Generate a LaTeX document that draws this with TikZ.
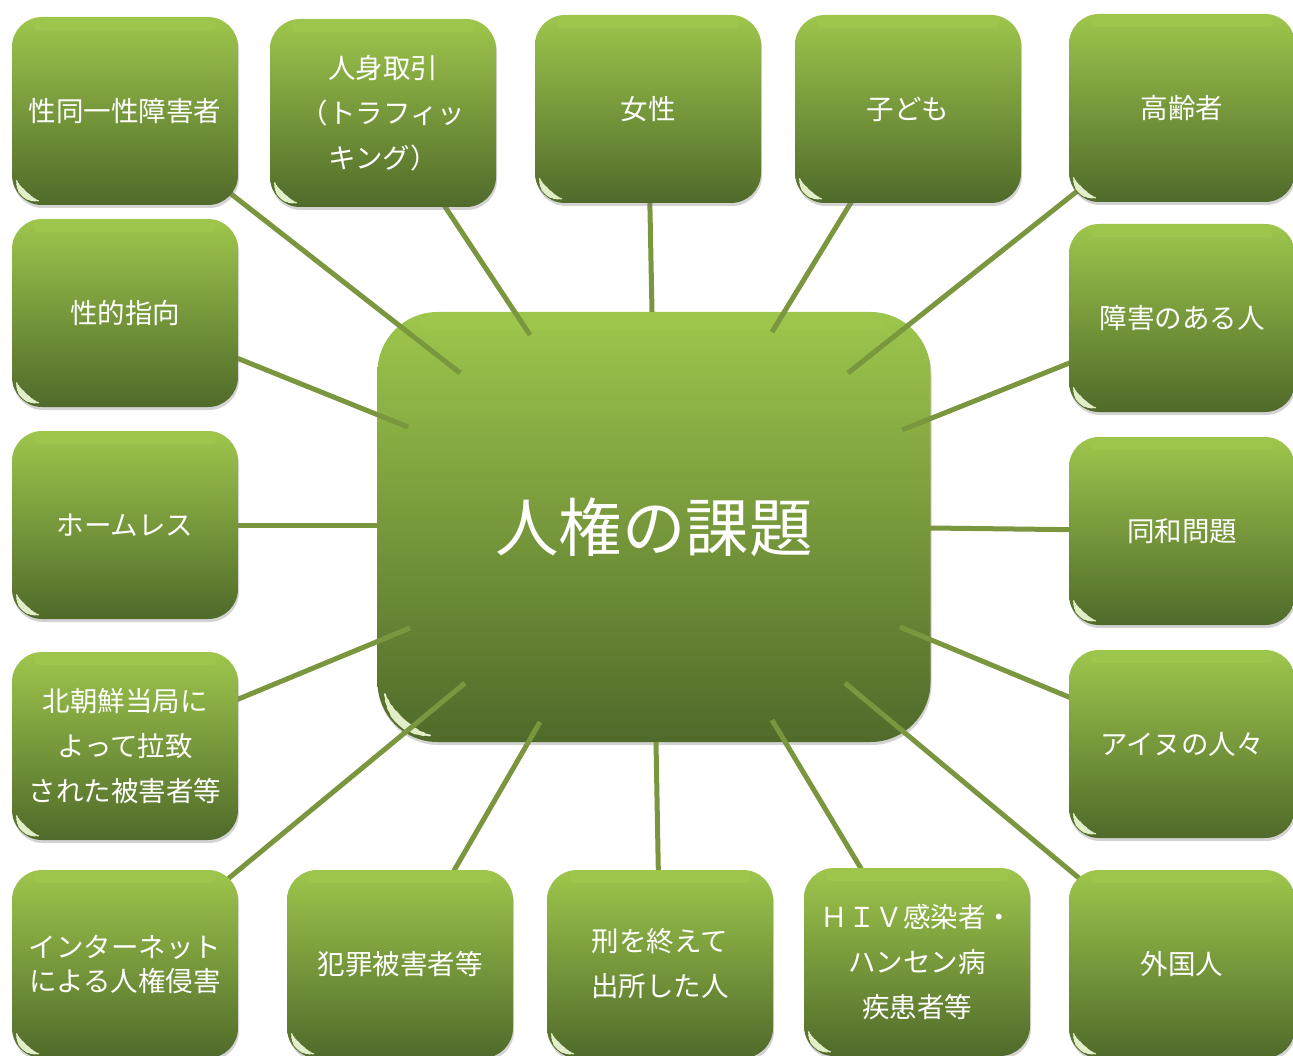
\documentclass[tikz,border=0pt]{standalone}
\usepackage{fontspec}
\setmainfont{Noto Sans CJK JP}
\usetikzlibrary{shadows}
\pgfdeclarelayer{bg}
\pgfdeclarelayer{mid}
\pgfsetlayers{bg,mid,main}
\definecolor{gtop}{RGB}{158,198,76}
\definecolor{gbot}{RGB}{80,106,42}
\definecolor{lnc}{RGB}{122,150,62}
\definecolor{glint}{RGB}{226,238,200}
\tikzset{
  glossy/.style={draw=none, top color=gtop, bottom color=gbot, text=white, align=center,
    drop shadow={opacity=0.35, shadow xshift=1pt, shadow yshift=-3pt}},
  smallhl/.style={path picture={
    \shade[top color=gtop, middle color=white!55!gtop, bottom color=gtop, rounded corners=4pt]
      ([xshift=22pt,yshift=-3pt]path picture bounding box.north west) rectangle
      ([xshift=-22pt,yshift=-13pt]path picture bounding box.north east);
    \foreach \a/\b/\w in {193/262/1.5, 200/255/3, 208/247/4.5, 216/238/6}{
      \draw[glint, line width=\w pt, line cap=round]
        ([shift={(30pt,30pt)}]path picture bounding box.south west)
        ++(\a:26pt) arc[start angle=\a, end angle=\b, radius=26pt];
    }
  }},
  bighl/.style={path picture={
    \shade[top color=gtop, middle color=white!55!gtop, bottom color=gtop, rounded corners=5pt]
      ([xshift=45pt,yshift=-4pt]path picture bounding box.north west) rectangle
      ([xshift=-45pt,yshift=-17pt]path picture bounding box.north east);
    \foreach \a/\b/\w in {193/262/2, 200/255/4, 208/247/6, 216/238/8}{
      \draw[glint, line width=\w pt, line cap=round]
        ([shift={(60pt,60pt)}]path picture bounding box.south west)
        ++(\a:54pt) arc[start angle=\a, end angle=\b, radius=54pt];
    }
  }},
  smallbox/.style={glossy, smallhl, minimum width=226pt, minimum height=188pt,
    rounded corners=30pt, inner sep=0pt, font=\fontsize{27.5}{45}\selectfont},
  bigbox/.style={glossy, bighl, minimum width=553pt, minimum height=430pt,
    rounded corners=60pt, inner sep=0pt, font=\fontsize{63.5}{70}\selectfont},
  link/.style={draw=lnc, line width=5pt}
}
\begin{document}
\begin{tikzpicture}[x=1pt,y=-1pt]
\useasboundingbox (0,0) rectangle (1293,1056);
\clip (0,0) rectangle (1293,1056);
\begin{pgfonlayer}{bg}
\node[bigbox] (c) at (654,527) {\raisebox{5pt}{人権の課題}};
\end{pgfonlayer}
% top row
\node[smallbox] (b1) at (125,111) {性同一性障害者};
\node[smallbox] (b2) at (383,113) {人身取引\\（トラフィッ\\キング）};
\node[smallbox] (b3) at (648,109) {女性};
\node[smallbox] (b4) at (908,109) {子ども};
\node[smallbox] (b5) at (1182,108) {高齢者};
% left column
\node[smallbox] (b6) at (125,313) {性的指向};
\node[smallbox] (b8) at (125,525) {ホームレス};
\node[smallbox] (b10) at (125,746) {北朝鮮当局に\\よって拉致\\された被害者等};
% right column
\node[smallbox] (b7) at (1182,318) {障害のある人};
\node[smallbox] (b9) at (1182,531) {同和問題};
\node[smallbox] (b11) at (1182,744) {アイヌの人々};
% bottom row
\node[smallbox, font=\fontsize{27.5}{34}\selectfont] (b12) at (125,964) {インターネット\\による人権侵害};
\node[smallbox] (b13) at (400,964) {犯罪被害者等};
\node[smallbox] (b14) at (660,964) {刑を終えて\\出所した人};
\node[smallbox] (b15) at (917,962) {ＨＩＶ感染者・\\ハンセン病\\疾患者等};
\node[smallbox] (b16) at (1182,964) {外国人};
% inner ends of connectors
\coordinate (e1) at (460,373);
\coordinate (e2) at (530,335);
\coordinate (e3) at (652,312);
\coordinate (e4) at (772,332);
\coordinate (e5) at (848,373);
\coordinate (e6) at (408,427);
\coordinate (e7) at (902,430);
\coordinate (e8) at (377,525);
\coordinate (e9) at (930,528);
\coordinate (e10) at (410,628);
\coordinate (e11) at (900,627);
\coordinate (e12) at (465,683);
\coordinate (e13) at (540,722);
\coordinate (e14) at (656,742);
\coordinate (e15) at (772,720);
\coordinate (e16) at (845,683);
\begin{pgfonlayer}{mid}
\foreach \i in {1,...,16} {\draw[link] (b\i.center) -- (e\i);}
\end{pgfonlayer}
\end{tikzpicture}
\end{document}
